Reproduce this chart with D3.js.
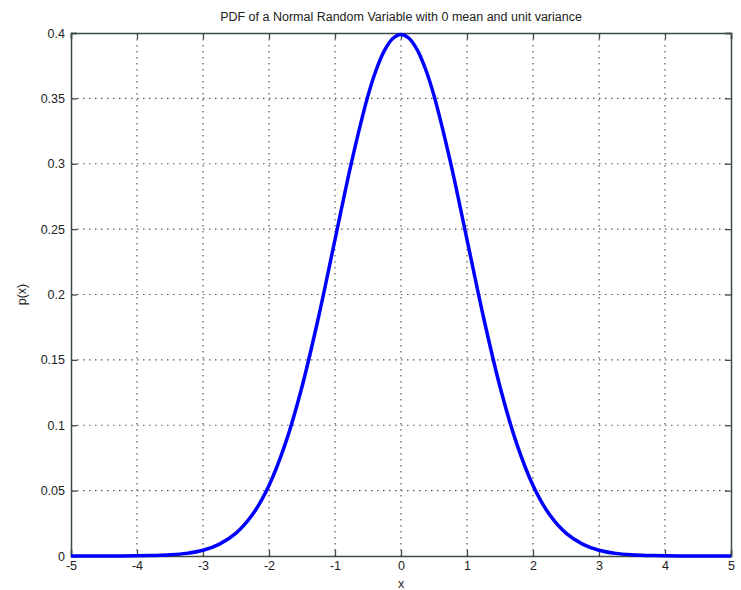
<!DOCTYPE html>
<html lang="en">
<head>
    <meta charset="UTF-8">
    <title>PDF of a Normal Random Variable</title>
    <script src="https://cdn.jsdelivr.net/npm/d3@7"></script>
    <style>
        body { margin: 0; background: #fff; }
        text { font-family: Arial, "Liberation Sans", sans-serif; fill: #222; }
    </style>
</head>
<body>
<div id="d3"></div>
<script>
    var width = 741;
    var height = 590;

    // values
    var xValues = [-5, -4.75, -4.5, -4.25, -4, -3.75, -3.5, -3.25, -3, -2.75, -2.5, -2.25, -2, -1.75, -1.5, -1.25,
        -1, -0.75, -0.5, -0.375, -0.25, -0.125, 0, 0.125, 0.25, 0.375, 0.5, 0.75, 1, 1.25, 1.5, 1.75, 2, 2.25, 2.5, 2.75,
        3, 3.25, 3.5, 3.75, 4, 4.25, 4.5, 4.75, 5];
    var pValues = [0, 0, 0, 0, 0.0001, 0.0004, 0.0009, 0.002, 0.0044, 0.0091, 0.0175, 0.0317, 0.054, 0.0863, 0.1295, 0.1826,
        0.242, 0.3011, 0.3521, 0.3719, 0.3867, 0.3958, 0.3989, 0.3958, 0.3867, 0.3719, 0.3521, 0.3011, 0.242, 0.1826, 0.1295, 0.0863,
        0.054, 0.0317, 0.0175, 0.0091, 0.0044, 0.002, 0.0009, 0.0004, 0.0001, 0, 0, 0, 0];
    var xTicks = [-5, -4, -3, -2, -1, 0, 1, 2, 3, 4, 5];
    var yTicks = [0, 0.05, 0.1, 0.15, 0.2, 0.25, 0.3, 0.35, 0.4];

    var mLeft = 71, mRight = 731, mTop = 33, mBottom = 556;

    var x = d3.scaleLinear().domain([-5, 5]).range([mLeft, mRight]);
    var y = d3.scaleLinear().domain([0, 0.4]).range([mBottom, mTop]);

    var svg = d3.select("#d3")
            .append("svg")
            .attr("width", width)
            .attr("height", height);

    //网格线
    var grid = svg.append("g")
            .attr("stroke", "#555")
            .attr("stroke-width", 1.2)
            .attr("stroke-dasharray", "1.5,4.5");

    grid.selectAll(".gx")
            .data(xTicks.slice(1, -1))
            .enter()
            .append("line")
            .attr("x1", function (d) { return x(d); })
            .attr("x2", function (d) { return x(d); })
            .attr("y1", mTop)
            .attr("y2", mBottom);

    grid.selectAll(".gy")
            .data(yTicks.slice(1, -1))
            .enter()
            .append("line")
            .attr("y1", function (d) { return y(d); })
            .attr("y2", function (d) { return y(d); })
            .attr("x1", mLeft)
            .attr("x2", mRight);

    //坐标轴
    var xAxis = d3.axisBottom(x).tickValues(xTicks).tickSize(-6).tickPadding(5)
            .tickFormat(function (d) { return String(d); });
    var yAxis = d3.axisLeft(y).tickValues(yTicks).tickSize(-6).tickPadding(6)
            .tickFormat(function (d) { return String(+d.toFixed(2)); });

    var gx = svg.append("g").attr("transform", "translate(0," + mBottom + ")").call(xAxis);
    var gy = svg.append("g").attr("transform", "translate(" + mLeft + ",0)").call(yAxis);
    var gxTop = svg.append("g").attr("transform", "translate(0," + mTop + ")")
            .call(d3.axisTop(x).tickValues(xTicks).tickSize(-6).tickFormat(""));
    var gyRight = svg.append("g").attr("transform", "translate(" + mRight + ",0)")
            .call(d3.axisRight(y).tickValues(yTicks).tickSize(-6).tickFormat(""));

    [gx, gy, gxTop, gyRight].forEach(function (g) {
        g.selectAll("path, line").attr("stroke", "#3c4a48").attr("stroke-width", 1.3);
        g.select(".domain").attr("stroke-width", 1.5);
        g.selectAll("text").style("font-size", "12.5px")
                .style("font-family", "Arial, 'Liberation Sans', sans-serif").attr("fill", "#222");
    });

    //曲线
    var line = d3.line()
            .x(function (d) { return x(d[0]); })
            .y(function (d) { return y(d[1]); })
            .curve(d3.curveCatmullRom);

    svg.append("path")
            .datum(d3.zip(xValues, pValues))
            .attr("fill", "none")
            .attr("stroke", "#0000ff")
            .attr("stroke-width", 3.5)
            .attr("d", line);

    //标题与轴标签
    svg.append("text")
            .attr("x", (mLeft + mRight) / 2)
            .attr("y", 21)
            .attr("text-anchor", "middle")
            .style("font-size", "12.5px")
            .text("PDF of a Normal Random Variable with 0 mean and unit variance");

    svg.append("text")
            .attr("x", (mLeft + mRight) / 2)
            .attr("y", 588)
            .attr("text-anchor", "middle")
            .style("font-size", "12.5px")
            .text("x");

    svg.append("text")
            .attr("transform", "translate(26," + (mTop + mBottom) / 2 + ") rotate(-90)")
            .attr("text-anchor", "middle")
            .style("font-size", "12.5px")
            .text("p(x)");
</script>
</body>
</html>
